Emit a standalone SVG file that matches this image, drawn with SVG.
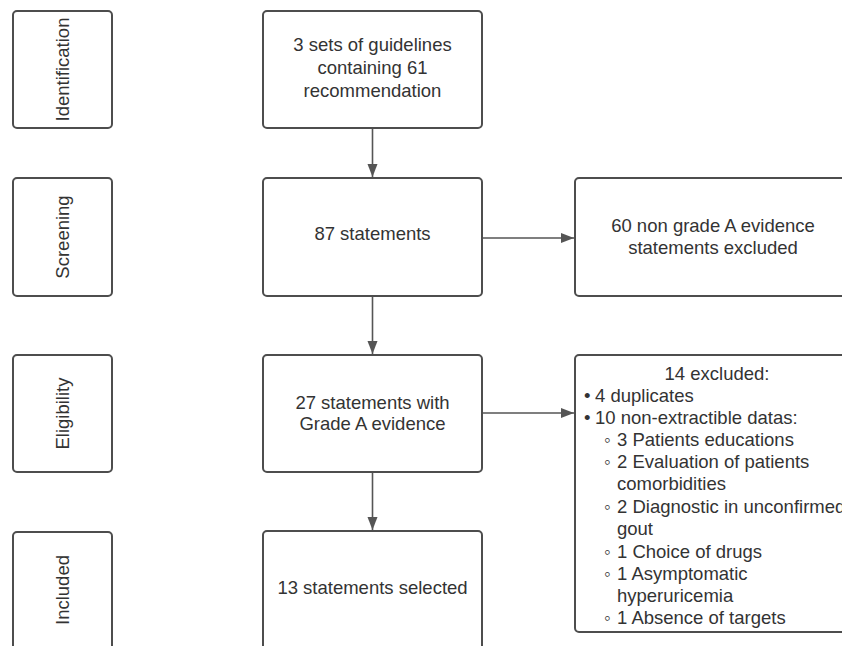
<svg xmlns="http://www.w3.org/2000/svg" width="842" height="646" viewBox="0 0 842 646">
<style>
.box{fill:#fff;stroke:#4d4d4d;stroke-width:2}
.t{font-family:"Liberation Sans",Arial,sans-serif;font-size:18.5px;fill:#333}
.c{text-anchor:middle}
.conn{stroke:#555;stroke-width:1.6;fill:none}
</style>
<defs>
<marker id="ah" markerUnits="userSpaceOnUse" markerWidth="14" markerHeight="12" refX="13" refY="5" orient="auto">
<path d="M0,0 L13,5 L0,10 Z" fill="#555"/>
</marker>
</defs>
<rect width="842" height="646" fill="#fff"/>
<g id="identification">
<rect class="box" x="13" y="11" width="99" height="117" rx="4"/>
<text class="t c" transform="translate(62.5,69.5) rotate(-90)" dy="0.35em">Identification</text>
</g>
<g id="screening">
<rect class="box" x="13" y="178" width="99" height="118" rx="4"/>
<text class="t c" transform="translate(62.5,237) rotate(-90)" dy="0.35em">Screening</text>
</g>
<g id="eligibility">
<rect class="box" x="13" y="355" width="99" height="117" rx="4"/>
<text class="t c" transform="translate(62.5,413.5) rotate(-90)" dy="0.35em">Eligibility</text>
</g>
<g id="included">
<rect class="box" x="13" y="532" width="99" height="130" rx="4"/>
<text class="t c" transform="translate(62.5,590) rotate(-90)" dy="0.35em">Included</text>
</g>
<g id="n1">
<rect class="box" x="263" y="11" width="219" height="117" rx="4"/>
<text class="t c" x="372.5" y="51">3 sets of guidelines</text>
<text class="t c" x="372.5" y="74">containing 61</text>
<text class="t c" x="372.5" y="97">recommendation</text>
</g>
<g id="n2">
<rect class="box" x="263" y="178" width="219" height="118" rx="4"/>
<text class="t c" x="372.5" y="240">87 statements</text>
</g>
<g id="n3">
<rect class="box" x="575" y="178" width="280" height="118" rx="4"/>
<text class="t c" x="713" y="232">60 non grade A evidence</text>
<text class="t c" x="713" y="254">statements excluded</text>
</g>
<g id="n4">
<rect class="box" x="263" y="355" width="219" height="117" rx="4"/>
<text class="t c" x="372.5" y="409">27 statements with</text>
<text class="t c" x="372.5" y="430">Grade A evidence</text>
</g>
<g id="n5">
<rect class="box" x="575" y="355" width="280" height="277" rx="4"/>
<text class="t c" x="717" y="380">14 excluded:</text>
<text class="t" x="584" y="402">• <tspan x="595">4 duplicates</tspan></text>
<text class="t" x="584" y="424">• <tspan x="595">10 non-extractible datas:</tspan></text>
<text class="t" x="604" y="446">◦ <tspan x="617">3 Patients educations</tspan></text>
<text class="t" x="604" y="468">◦ <tspan x="617">2 Evaluation of patients</tspan></text>
<text class="t" x="617" y="490">comorbidities</text>
<text class="t" x="604" y="513">◦ <tspan x="617">2 Diagnostic in unconfirmed</tspan></text>
<text class="t" x="617" y="535">gout</text>
<text class="t" x="604" y="558">◦ <tspan x="617">1 Choice of drugs</tspan></text>
<text class="t" x="604" y="580">◦ <tspan x="617">1 Asymptomatic</tspan></text>
<text class="t" x="617" y="602">hyperuricemia</text>
<text class="t" x="604" y="624">◦ <tspan x="617">1 Absence of targets</tspan></text>
</g>
<g id="n6">
<rect class="box" x="263" y="531" width="219" height="130" rx="4"/>
<text class="t c" x="372.5" y="594">13 statements selected</text>
</g>
<g id="connectors">
<line class="conn" x1="372.5" y1="129" x2="372.5" y2="177" marker-end="url(#ah)"/>
<line class="conn" x1="372.5" y1="297" x2="372.5" y2="354" marker-end="url(#ah)"/>
<line class="conn" x1="372.5" y1="473" x2="372.5" y2="530" marker-end="url(#ah)"/>
<line class="conn" x1="483" y1="238" x2="574" y2="238" marker-end="url(#ah)"/>
<line class="conn" x1="483" y1="413" x2="574" y2="413" marker-end="url(#ah)"/>
</g>
</svg>
